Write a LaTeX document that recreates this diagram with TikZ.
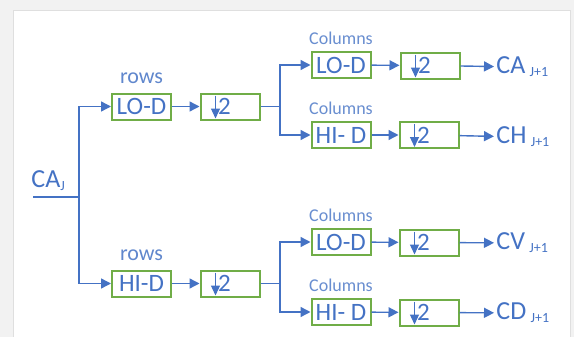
\documentclass[tikz,border=0pt]{standalone}
\usepackage{fontspec}
\setmainfont{Carlito}
\usepackage{xcolor}
\usetikzlibrary{arrows.meta, positioning}
\definecolor{wblue}{HTML}{4472C4}
\definecolor{wgreen}{HTML}{70AD47}
\newcommand{\lowidx}[1]{\raisebox{-1.5pt}{\fontsize{7}{8}\selectfont #1}}

\begin{document}
\begin{tikzpicture}[x=0.5pt, y=-0.5pt,
    filt/.style={draw=wgreen, line width=1pt, minimum width=29.5pt, minimum height=13pt, inner sep=1pt, text=wblue, font=\fontsize{12.5}{14}\selectfont},
    down/.style={filt, text width=26pt, align=left,
        path picture={\draw[wblue, line width=0.6pt, -{Triangle[length=5pt,width=4.5pt]}]
            ([xshift=7.5pt, yshift=-1pt]path picture bounding box.north west) --
            ([xshift=7.5pt, yshift=0.5pt]path picture bounding box.south west);}},
    flow/.style={draw=wblue, line width=0.7pt},
    arr/.style={flow, -{Triangle[length=5pt,width=5pt]}},
    rowlbl/.style={text=wblue!85, font=\fontsize{11}{12}\selectfont, inner sep=1pt},
    collbl/.style={text=wblue!80, font=\fontsize{9}{10}\selectfont, inner sep=1pt},
    outlbl/.style={text=wblue, anchor=west, inner sep=1pt, font=\fontsize{13}{14}\selectfont}]
    % frame
    \useasboundingbox (0,0) rectangle (574,337);
    \fill[gray!10] (0,0) rectangle (574,337);
    \fill[white] (13,10) rectangle (570,337);
    \draw[gray!25] (13,337) -- (13,10) -- (570,10) -- (570,337);

    % input
    \node (caj) [outlbl] at (29,181) {CA\lowidx{J}};
    \coordinate (inA) at (33,197);
    \coordinate (splitR) at (79,197);

    % row filters
    \node (rlo) [filt] at (141.5,106.5) {LO-D};
    \node (rlodown) [down] at (230,106.5) {\hspace*{7pt}2};
    \node (rhi) [filt] at (141.5,283.5) {HI-D};
    \node (rhidown) [down] at (230,283.5) {\hspace*{7pt}2};
    \node (rowsA) [rowlbl, above=3pt of rlo] {rows};
    \node (rowsB) [rowlbl, above=3pt of rhi] {rows};
    \coordinate (splitA) at (280,106.5);
    \coordinate (splitB) at (280,283.5);

    % column filters
    \node (clo1) [filt] at (341,65) {LO-D};
    \node (cdown1) [down] at (430,65.5) {\hspace*{7pt}2};
    \node (chi1) [filt] at (341,135) {HI- D};
    \node (cdown2) [down] at (429,135) {\hspace*{7pt}2};
    \node (clo2) [filt] at (341,242) {LO-D};
    \node (cdown3) [down] at (429,242.5) {\hspace*{7pt}2};
    \node (chi2) [filt] at (341,312) {HI- D};
    \node (cdown4) [down] at (429,312.5) {\hspace*{7pt}2};
    \node (colsA) [collbl, above=2pt of clo1] {Columns};
    \node (colsB) [collbl, above=2pt of chi1] {Columns};
    \node (colsC) [collbl, above=2pt of clo2] {Columns};
    \node (colsD) [collbl, above=2pt of chi2] {Columns};

    % outputs
    \node (oca) [outlbl] at (494,67) {CA\,\lowidx{J+1}};
    \node (och) [outlbl] at (494,137) {CH\,\lowidx{J+1}};
    \node (ocv) [outlbl] at (494,243) {CV\,\lowidx{J+1}};
    \node (ocd) [outlbl] at (494,313) {CD\,\lowidx{J+1}};

    % connectors
    \draw[flow] (inA) -- (splitR);
    \draw[arr] (splitR) |- (rlo);
    \draw[arr] (splitR) |- (rhi);
    \draw[arr] (rlo) -- (rlodown);
    \draw[arr] (rhi) -- (rhidown);
    \draw[flow] (rlodown) -- (splitA);
    \draw[flow] (rhidown) -- (splitB);
    \draw[arr] (splitA) |- (clo1);
    \draw[arr] (splitA) |- (chi1);
    \draw[arr] (splitB) |- (clo2);
    \draw[arr] (splitB) |- (chi2);
    \draw[arr] (clo1) -- (cdown1);
    \draw[arr] (chi1) -- (cdown2);
    \draw[arr] (clo2) -- (cdown3);
    \draw[arr] (chi2) -- (cdown4);
    \draw[arr] (cdown1) -- (oca);
    \draw[arr] (cdown2) -- (och);
    \draw[arr] (cdown3) -- (ocv);
    \draw[arr] (cdown4) -- (ocd);
\end{tikzpicture}
\end{document}
